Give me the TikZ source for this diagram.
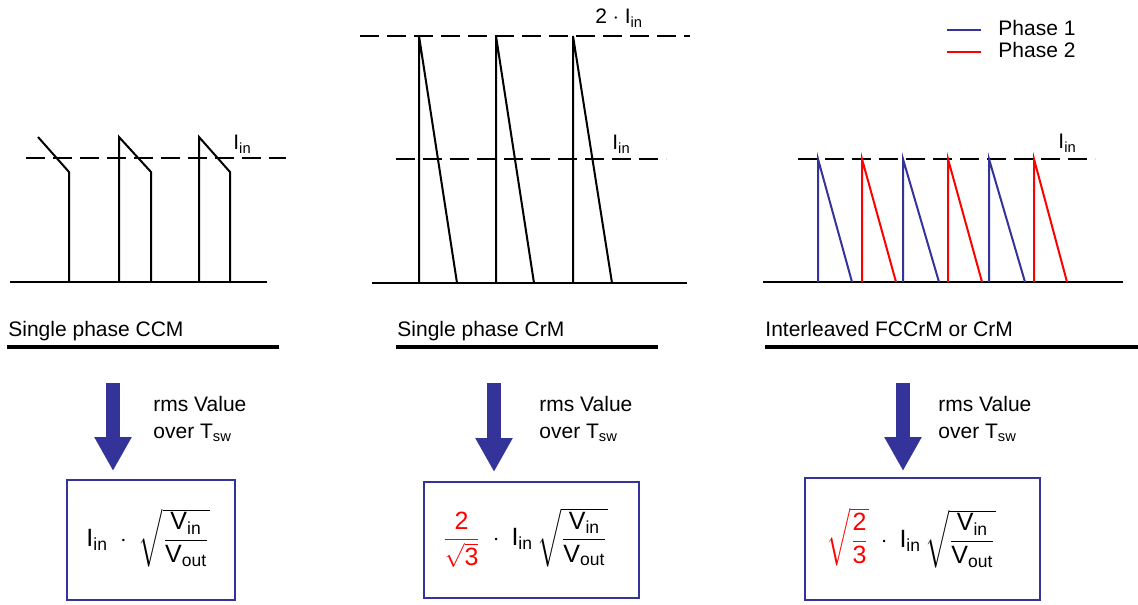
\documentclass[tikz,border=0pt]{standalone}
\usepackage{fontspec}
\usepackage{amsmath}
\setmainfont{Liberation Sans}
\usetikzlibrary{arrows.meta}
\definecolor{phblue}{RGB}{51,51,153}
\definecolor{phred}{RGB}{255,0,0}
\newcommand{\tx}[1]{\text{#1}}
\begin{document}
\begin{tikzpicture}[x=0.5pt,y=-0.5pt,
  lbl/.style={font=\fontsize{10.5}{12}\selectfont, inner sep=0pt},
  wave/.style={line width=1pt, line join=miter},
  baseln/.style={line width=1.2pt},
  dashln/.style={line width=1pt, dash pattern=on 9.5pt off 4pt},
  uline/.style={line width=2pt},
  bluew/.style={wave, draw=phblue},
  redw/.style={wave, draw=phred},
  bigarrow/.style={draw=phblue, line width=7pt, -{Triangle[width=17.5pt,length=17pt]}},
  fbox/.style={draw=phblue, line width=1pt, inner sep=0pt},
  formula/.style={font=\fontsize{12.5}{15}\selectfont, inner sep=0pt}
]
\useasboundingbox (0,0) rectangle (1138,604);

% ---------- Panel 1: CCM ----------
\draw[dashln] (26,158) -- (286,158);
\draw[baseln] (10,282) -- (267,282);
\draw[wave] (38,137) -- (69,172) -- (69,282);
\draw[wave] (119,282) -- (119,137) -- (151,172) -- (151,282);
\draw[wave] (199,282) -- (199,137) -- (230,172) -- (230,282);
\node[lbl, anchor=base west] (iin1) at (233,150) {$\tx{I}_{\tx{in}}$};

% ---------- Panel 2: CrM ----------
\draw[dashln] (360,36) -- (690,36);
\draw[dashln] (396,159) -- (666,159);
\draw[baseln] (372,283) -- (687,283);
\draw[wave] (419,283) -- (419,36) -- (457,283);
\draw[wave] (496,283) -- (496,36) -- (534,283);
\draw[wave] (573,283) -- (573,36) -- (612,283);
\node[lbl, anchor=base west] (iin2top) at (595,24) {2 $\cdot$ $\tx{I}_{\tx{in}}$};
\node[lbl, anchor=base west] (iin2) at (612,150) {$\tx{I}_{\tx{in}}$};

% ---------- Panel 3: interleaved ----------
\draw[dashln] (798,159) -- (1095,159);
\draw[baseln] (763,282) -- (1123,282);
\draw[bluew] (818,282) -- (818,159) -- (852,282);
\draw[bluew] (903,282) -- (903,159) -- (939,282);
\draw[bluew] (989,282) -- (989,159) -- (1025,282);
\draw[redw] (862,282) -- (862,159) -- (896,282);
\draw[redw] (948,282) -- (948,159) -- (982,282);
\draw[redw] (1034,282) -- (1034,159) -- (1067,282);
\node[lbl, anchor=base west] (iin3) at (1058,149) {$\tx{I}_{\tx{in}}$};

% ---------- Legend ----------
\coordinate (lg1a) at (947,30); \coordinate (lg1b) at (981,30);
\coordinate (lg2a) at (947,52); \coordinate (lg2b) at (981,52);
\draw[phblue, line width=0.8pt] (lg1a) -- (lg1b);
\draw[phred, line width=0.8pt] (lg2a) -- (lg2b);
\node[lbl, anchor=west] (ph1) at (998,28) {Phase 1};
\node[lbl, anchor=west] (ph2) at (998,50) {Phase 2};

% ---------- Titles ----------
\node[lbl, anchor=base west] (t1) at (8,336) {Single phase CCM};
\node[lbl, anchor=base west] (t2) at (397,336) {Single phase CrM};
\node[lbl, anchor=base west] (t3) at (765,336) {Interleaved FCCrM or CrM};
\draw[uline] (7,347) -- (279,347);
\draw[uline] (396,347) -- (658,347);
\draw[uline] (765,347) -- (1138,347);

% ---------- Boxes ----------
\node[fbox, minimum width=84pt, minimum height=60pt] (box1) at (151,540) {};
\node[fbox, minimum width=107.5pt, minimum height=58pt] (box2) at (531.5,540) {};
\node[fbox, minimum width=117.5pt, minimum height=61pt] (box3) at (922.5,539) {};

% ---------- Arrows ----------
\coordinate (a1s) at (113,383);
\coordinate (a2s) at (494,383);
\coordinate (a3s) at (903,383);
\draw[bigarrow, shorten >=4pt] (a1s) -- (box1.north -| a1s);
\draw[bigarrow, shorten >=4.5pt] (a2s) -- (box2.north -| a2s);
\draw[bigarrow, shorten >=3pt] (a3s) -- (box3.north -| a3s);

\node[lbl, anchor=base west] (r1a) at (153,411) {rms Value};
\node[lbl, anchor=base west] (r1b) at (153,438) {over $\tx{T}_{\tx{sw}}$};
\node[lbl, anchor=base west] (r2a) at (539,411) {rms Value};
\node[lbl, anchor=base west] (r2b) at (539,438) {over $\tx{T}_{\tx{sw}}$};
\node[lbl, anchor=base west] (r3a) at (938,411) {rms Value};
\node[lbl, anchor=base west] (r3b) at (938,438) {over $\tx{T}_{\tx{sw}}$};

% ---------- Formulas ----------
\node[formula] (f1) at (148,538) {$\tx{I}_{\tx{in}}\;\cdot\;\sqrt{\dfrac{\tx{V}_{\tx{in}}}{\tx{V}_{\tx{out}}}}$};
\node[formula] (f2) at (525,538) {${\color{phred}\dfrac{\tx{2}}{\sqrt{\tx{3}}}}\;\cdot\;\tx{I}_{\tx{in}}\,\sqrt{\dfrac{\tx{V}_{\tx{in}}}{\tx{V}_{\tx{out}}}}$};
\node[formula] (f3) at (911,538) {${\color{phred}\sqrt{\dfrac{\tx{2}}{\tx{3}}}}\;\cdot\;\tx{I}_{\tx{in}}\,\sqrt{\dfrac{\tx{V}_{\tx{in}}}{\tx{V}_{\tx{out}}}}$};
\end{tikzpicture}
\end{document}
